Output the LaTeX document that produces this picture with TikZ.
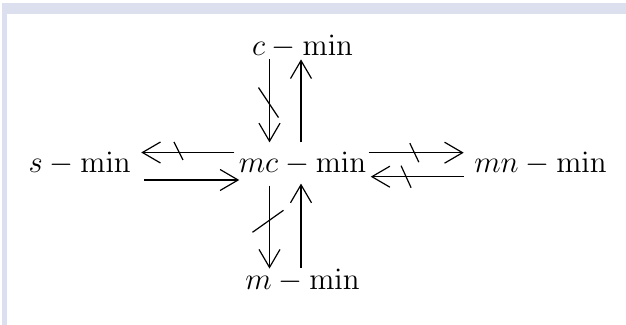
\documentclass[tikz,border=0pt]{standalone}
\usepackage{fix-cm}
\usepackage{tikz}
\usetikzlibrary{arrows.meta,positioning}
\definecolor{framegray}{HTML}{DCE0EE}

\begin{document}
\begin{tikzpicture}[node distance=45pt and 53.5pt,>={Straight Barb[length=9pt,width=10.5pt]},line width=0.6pt, every node/.style={font=\fontsize{15.4}{18}\selectfont}]
\tikzstyle{term}=[inner sep=0pt,text height=11pt,text depth=2pt]
% page and frame
\useasboundingbox (0,0) rectangle (313pt,-162.5pt);
\fill[white] (0,0) rectangle (313pt,-162.5pt);
\fill[framegray] (1pt,-1.5pt) rectangle (313pt,-7pt);
\fill[framegray] (1pt,-1.5pt) rectangle (3.25pt,-162.5pt);
% terms
\node[term] (mc) at (151.25pt,-82pt) {$mc-\mathrm{min}$};
\node[term,above=of mc] (c) {$c-\mathrm{min}$};
\node[term,below=44.5pt of mc] (m) {$m-\mathrm{min}$};
\node[term,left=of mc] (s) {$s-\mathrm{min}$};
\node[term,right=of mc] (mn) {$mn-\mathrm{min}$};
% c and mc
\draw[->] ([xshift=-16.5pt,yshift=0.5pt]c.south) -- coordinate[pos=0.52] (xc) ([xshift=-16.5pt,yshift=4pt]mc.north);
\draw[->] ([xshift=-0.75pt,yshift=4pt]mc.north) -- ([xshift=-0.75pt,yshift=0.5pt]c.south);
\draw ([shift={(-5.5pt,7.5pt)}]xc) -- ([shift={(4.5pt,-7.5pt)}]xc);
% mc and m
\draw[->] ([xshift=-16.5pt,yshift=-4pt]mc.south) -- coordinate[pos=0.43] (xm) ([xshift=-16.5pt,yshift=-1pt]m.north);
\draw[->] ([xshift=-0.75pt,yshift=-0.5pt]m.north) -- ([xshift=-0.75pt,yshift=-3pt]mc.south);
\draw ([shift={(-8.5pt,-5.5pt)}]xm) -- ([shift={(7pt,5.5pt)}]xm);
% s and mc
\draw[->] ([xshift=-2pt,yshift=5.75pt]mc.west) -- coordinate[pos=0.6] (xs) ([xshift=5pt,yshift=5.75pt]s.east);
\draw ([shift={(-2.25pt,5.25pt)}]xs) -- ([shift={(2.25pt,-3.75pt)}]xs);
\draw[->] ([xshift=6.5pt,yshift=-8pt]s.east) -- ([xshift=0.5pt,yshift=-8pt]mc.west);
% mc and mn
\draw[->] ([xshift=1pt,yshift=5.65pt]mc.east) -- coordinate[pos=0.48] (xn) ([xshift=-5pt,yshift=5.65pt]mn.west);
\draw ([shift={(-2.25pt,4.75pt)}]xn) -- ([shift={(2.25pt,-4.75pt)}]xn);
\draw[->] ([xshift=-5pt,yshift=-6.35pt]mn.west) -- coordinate[pos=0.62] (xr) ([xshift=2pt,yshift=-6.35pt]mc.east);
\draw ([shift={(-2.5pt,5.5pt)}]xr) -- ([shift={(2.5pt,-5.5pt)}]xr);
\end{tikzpicture}
\end{document}
